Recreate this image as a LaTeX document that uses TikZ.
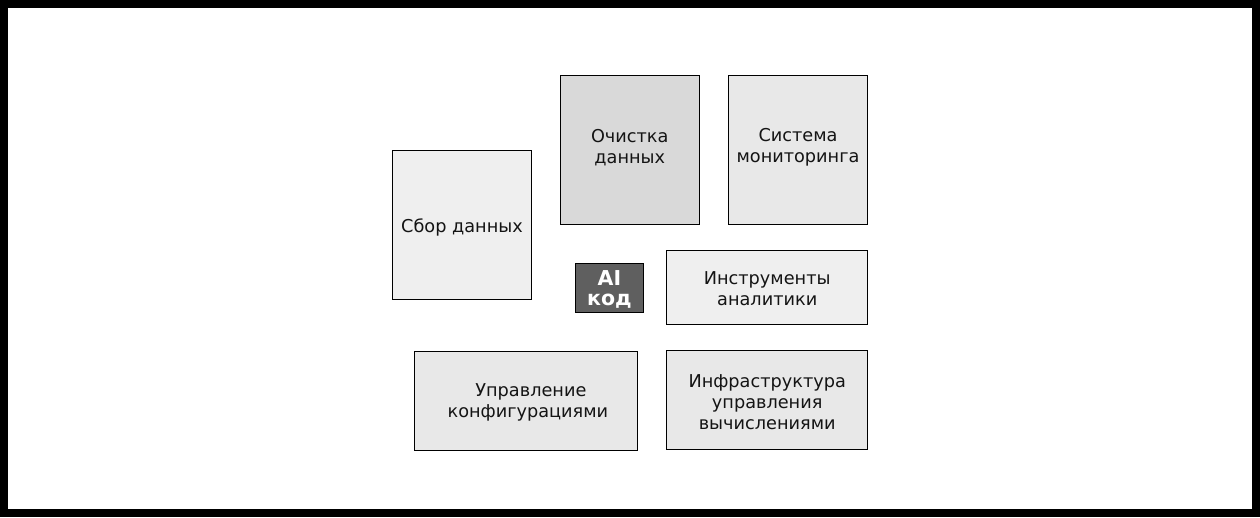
\documentclass[tikz,border=0pt]{standalone}
\usepackage{fontspec}
\setmainfont{DejaVu Sans}
\definecolor{boxA}{HTML}{EFEFEF}
\definecolor{boxB}{HTML}{D9D9D9}
\definecolor{boxC}{HTML}{E8E8E8}
\definecolor{boxAI}{HTML}{5F5F5F}
\begin{document}
\begin{tikzpicture}[x=1pt,y=-1pt,
  blk/.style={draw=black,line width=0.9pt,rectangle,inner sep=0pt,anchor=center},
  txt/.style={inner sep=0pt,anchor=center,align=center,
    font=\fontsize{17.7}{21}\selectfont,text=black!92},
  aitxt/.style={inner sep=0pt,anchor=center,align=center,
    font=\bfseries\fontsize{20.5}{20}\selectfont,text=white}]
\fill[black] (0,0) rectangle (1260,517);
\fill[white] (8,8) rectangle (1252,509);
\useasboundingbox (0,0) rectangle (1260,517);
\node[blk,fill=boxA,minimum width=139pt,minimum height=149pt] (sbor) at (462,224.75) {};
\node[blk,fill=boxB,minimum width=139pt,minimum height=149pt] (och) at (629.75,149.5) {};
\node[blk,fill=boxC,minimum width=139.5pt,minimum height=149pt] (sys) at (798,149.5) {};
\node[blk,fill=boxAI,minimum width=68.5pt,minimum height=49pt] (ai) at (609.4,287.7) {};
\node[blk,fill=boxA,minimum width=201pt,minimum height=73.7pt] (instr) at (767.2,287.2) {};
\node[blk,fill=boxC,minimum width=223.7pt,minimum height=99pt] (upr) at (525.9,400.5) {};
\node[blk,fill=boxC,minimum width=201pt,minimum height=99.3pt] (infra) at (767.2,399.7) {};
\node[txt] (tsbor) at ([yshift=-3pt]sbor.center) {Сбор данных};
\node[txt] (toch) at ([yshift=2pt]och.center) {Очистка\\данных};
\node[txt] (tsys) at ([yshift=2pt]sys.center) {Система\\мониторинга};
\node[aitxt] (tai) at ([yshift=-2pt]ai.center) {AI\\код};
\node[txt] (tinstr) at ([yshift=-1.5pt]instr.center) {Инструменты\\аналитики};
\node[txt] (tupr) at ([xshift=2pt,yshift=-2pt]upr.center) {\hspace*{6pt}Управление\\конфигурациями};
\node[txt] (tinfra) at ([yshift=-2.5pt]infra.center) {Инфраструктура\\управления\\вычислениями};
\end{tikzpicture}
\end{document}
